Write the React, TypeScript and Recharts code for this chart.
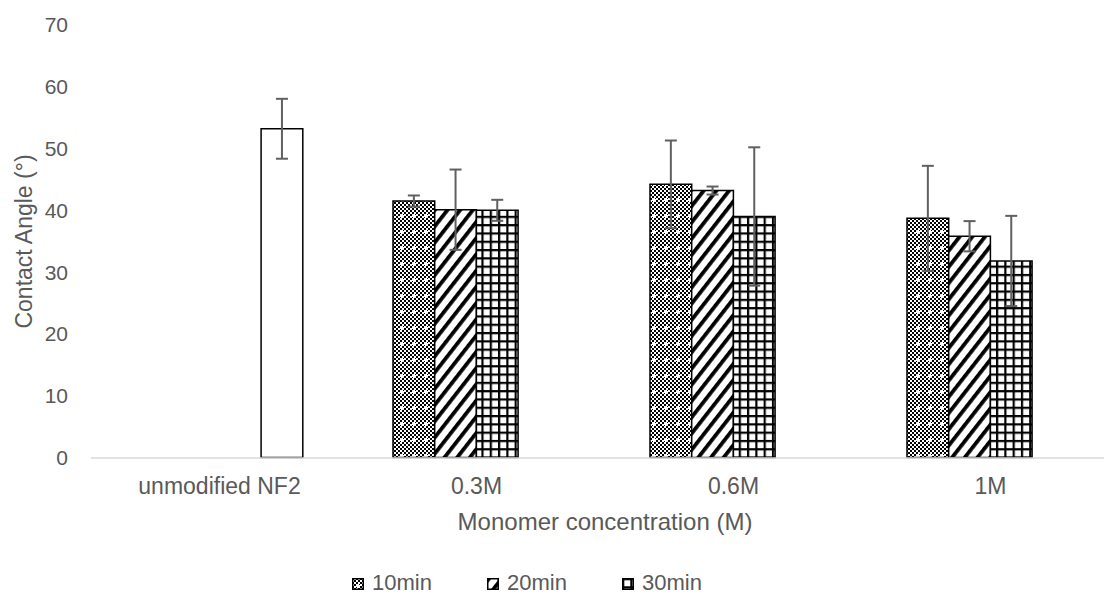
import React from "react";
import { BarChart, Bar, XAxis, YAxis, ErrorBar, Legend, Label } from "recharts";

const categories = ["unmodified NF2", "0.3M", "0.6M", "1M"];
const min10 = [null, 41.5, 44.2, 38.7];
const min10Err = [null, 0.9, 7.1, 8.5];
const min20 = [null, 40.1, 43.2, 35.8];
const min20Err = [null, 6.5, 0.65, 2.45];
const min30 = [0, 40.0, 39.0, 31.8];
const min30Err = [0.1, 1.7, 11.2, 7.3];
const unmodified = [53.2, null, null, null];
const unmodifiedErr = [4.85, null, null, null];
const yTicks = [0, 10, 20, 30, 40, 50, 60, 70];

const data = categories.map((c, i) => ({
  category: c,
  min10: min10[i],
  min10Err: min10Err[i],
  min20: min20[i],
  min20Err: min20Err[i],
  min30: min30[i],
  min30Err: min30Err[i],
  unmodified: unmodified[i],
  unmodifiedErr: unmodifiedErr[i],
}));

const FONT = '"Liberation Sans", Arial, sans-serif';
const TEXT = "#595959";
const ERR = "#606060";

const legendItems = [
  { name: "10min", fill: "url(#p10)" },
  { name: "20min", fill: "url(#p20)" },
  { name: "30min", fill: "url(#p30)" },
];

function Patterns() {
  return (
    <defs>
      <pattern id="chk" width="4" height="4" patternUnits="userSpaceOnUse">
        <rect width="4" height="4" fill="#fff" />
        <rect x="0" y="0" width="2" height="2" fill="#000" />
        <rect x="2" y="2" width="2" height="2" fill="#000" />
      </pattern>
      <pattern id="p10" width="12" height="16" patternUnits="userSpaceOnUse">
        <rect width="12" height="16" fill="url(#chk)" />
        <rect x="5" y="6" width="2" height="4" fill="#fff" />
        <rect x="4" y="7" width="4" height="2" fill="#fff" />
      </pattern>
      <pattern id="p20" width="10" height="10" patternUnits="userSpaceOnUse" patternTransform="rotate(38)">
        <rect width="10" height="10" fill="#fff" />
        <rect x="0" y="0" width="3.8" height="10" fill="#000" />
      </pattern>
      <pattern id="p30" width="8.3" height="8.3" patternUnits="userSpaceOnUse">
        <rect width="8.3" height="8.3" fill="#fff" />
        <rect x="0" y="0" width="2.2" height="8.3" fill="#000" />
        <rect x="0" y="0" width="8.3" height="2.2" fill="#000" />
      </pattern>
    </defs>
  );
}

function CategoryTick(props: any) {
  const { x, y, payload } = props;
  return (
    <text x={x} y={y + 12} dy="0.71em" textAnchor="middle" fill={TEXT} fontSize={23} fontFamily={FONT}>
      {payload.value}
    </text>
  );
}

function LegendBox() {
  return (
    <div style={{ paddingLeft: 352, fontFamily: FONT, fontSize: 22, color: TEXT, whiteSpace: "nowrap", lineHeight: "25px" }}>
      {legendItems.map((it) => (
        <span key={it.name} style={{ display: "inline-block", width: 135 }}>
          <svg width="12" height="12" style={{ verticalAlign: "baseline", marginRight: 8 }}>
            <rect x="0.75" y="0.75" width="10.5" height="10.5" fill={it.fill} stroke="#000" strokeWidth="1.5" />
          </svg>
          {it.name}
        </span>
      ))}
    </div>
  );
}

function YTitle(props: any) {
  const { viewBox } = props;
  const cx = viewBox.x + 24;
  const cy = viewBox.y + viewBox.height / 2;
  return (
    <text x={cx} y={cy} transform={`rotate(-90, ${cx}, ${cy})`} textAnchor="middle" dominantBaseline="central" fill={TEXT} fontSize={23} fontFamily={FONT}>
      Contact Angle (°)
    </text>
  );
}

export default function App() {
  return (
    <div style={{ width: 1104, height: 595, overflow: "hidden", position: "relative", background: "#fff" }}>
      <style>{`body{margin:0;overflow:hidden}`}</style>
      <BarChart
        width={1130}
        height={595}
        data={data}
        margin={{ top: 25, right: 11, left: 0, bottom: 7 }}
        barGap={0}
        barSize={41.7}
      >
        <Patterns />
        <XAxis
          dataKey="category"
          axisLine={{ stroke: "#d9d9d9", strokeWidth: 1.5 }}
          tickLine={false}
          height={100}
          interval={0}
          tick={<CategoryTick />}
        >
          <Label value="Monomer concentration (M)" position="insideBottom" offset={28} fill={TEXT} fontSize={24} fontFamily={FONT} />
        </XAxis>
        <YAxis
          domain={[0, 70]}
          ticks={yTicks}
          width={91}
          axisLine={false}
          tickLine={false}
          tickSize={0}
          tickMargin={23}
          tick={{ fill: TEXT, fontSize: 21, fontFamily: FONT }}
        >
          <Label content={<YTitle />} />
        </YAxis>
        <Legend
          verticalAlign="bottom"
          content={<LegendBox />}
          wrapperStyle={{ left: 0, width: 1104, height: 30, bottom: 0, top: 570 }}
        />
        <Bar dataKey="min10" fill="url(#p10)" stroke="#000" strokeWidth={1.5} isAnimationActive={false}>
          <ErrorBar dataKey="min10Err" width={6} stroke={ERR} strokeWidth={2} />
        </Bar>
        <Bar dataKey="min20" fill="url(#p20)" stroke="#000" strokeWidth={1.5} isAnimationActive={false}>
          <ErrorBar dataKey="min20Err" width={6} stroke={ERR} strokeWidth={2} />
        </Bar>
        <Bar dataKey="min30" fill="url(#p30)" stroke="#000" strokeWidth={1.5} isAnimationActive={false}>
          <ErrorBar dataKey="min30Err" width={6} stroke={ERR} strokeWidth={2} />
        </Bar>
        <Bar dataKey="unmodified" fill="#fff" stroke="#000" strokeWidth={1.5} isAnimationActive={false} legendType="none">
          <ErrorBar dataKey="unmodifiedErr" width={6} stroke={ERR} strokeWidth={2} />
        </Bar>
      </BarChart>
    </div>
  );
}
